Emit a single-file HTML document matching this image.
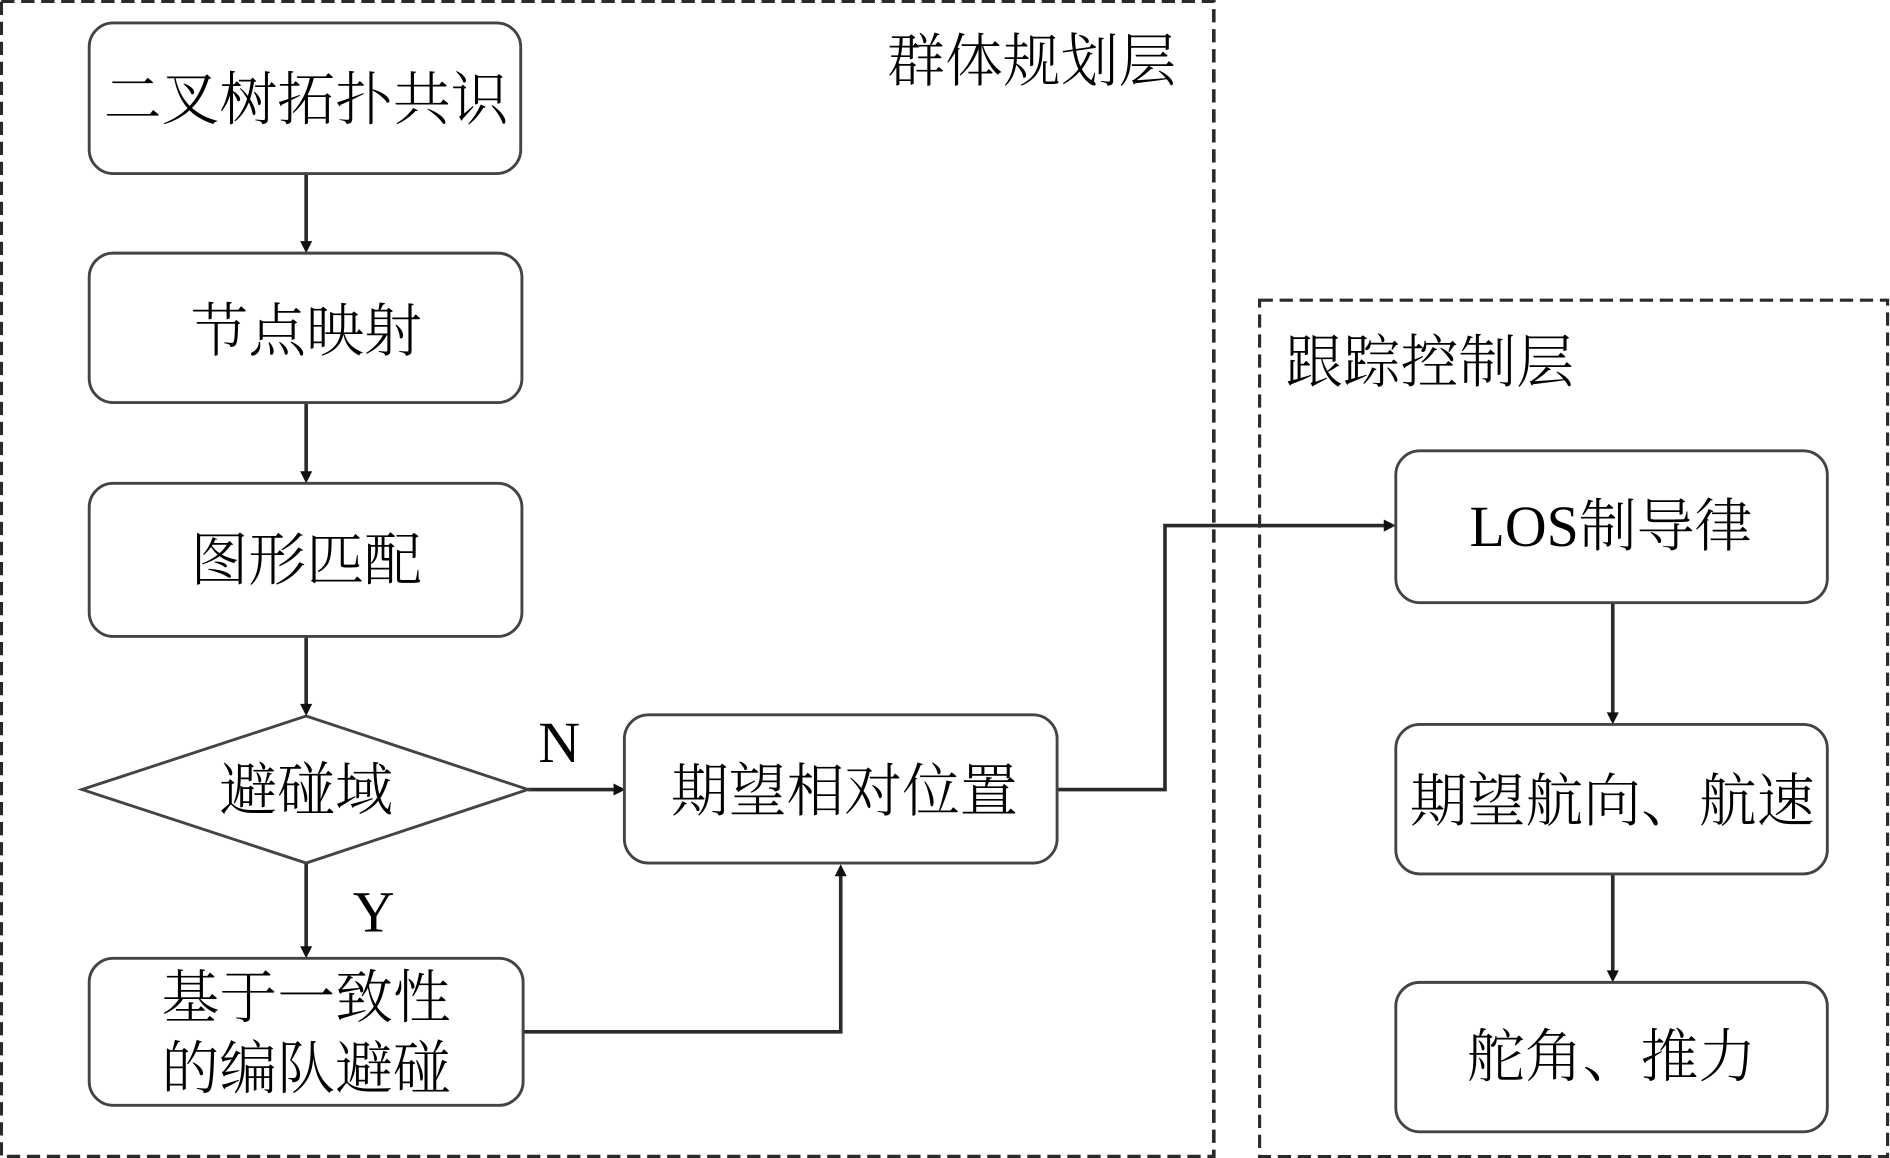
<!DOCTYPE html>
<html><head><meta charset="utf-8"><style>
html,body{margin:0;padding:0;background:#fff}
svg{display:block}
text{font-family:"Liberation Serif","Noto Serif CJK SC",serif;font-size:48px;fill:#000;text-anchor:middle;font-weight:300}
.b{fill:#fff;stroke:#444;stroke-width:2.4}
.l{fill:none;stroke:#2a2a2a;stroke-width:3}
.d{fill:none;stroke:#2a2a2a;stroke-width:3;stroke-dasharray:11 5.6}
.a{fill:#111}
</style></head><body>
<svg width="1890" height="1158" viewBox="0 0 1568 960.7" xmlns="http://www.w3.org/2000/svg">
<rect width="1568" height="961" fill="#fff"/>
<rect class="d" x="1" y="1" width="1006" height="958.5"/>
<rect class="d" x="1045" y="249" width="521" height="710.5" style="stroke-width:2.6"/>
<path class="l" d="M254 144V205M254 334V396M254 528V589M254 716V790M438 655H514M877 655H966.5V436H1153M434 856H697.5V722M1338 500V596M1338 725V810"/>
<path class="a" d="M249 200h10l-5 10zM249 391h10l-5 10zM249 584h10l-5 10zM249 785h10l-5 10zM509 650v10l10-5zM1148 431v10l10-5zM692.5 727h10l-5-10zM1333 591h10l-5 10zM1333 805h10l-5 10z"/>
<rect class="b" x="74" y="19" width="358" height="125" rx="20"/>
<rect class="b" x="74" y="210" width="359" height="124" rx="20"/>
<rect class="b" x="74" y="401" width="359" height="127" rx="20"/>
<polygon class="b" points="68,655 254,594 438,655 254,716"/>
<rect class="b" x="74" y="795" width="360" height="122" rx="20"/>
<rect class="b" x="518" y="593" width="359" height="123" rx="20"/>
<rect class="b" x="1158" y="374" width="358" height="126" rx="20"/>
<rect class="b" x="1158" y="601" width="358" height="124" rx="20"/>
<rect class="b" x="1158" y="815" width="358" height="124" rx="20"/>
<text x="856" y="67">群体规划层</text>
<text x="1186" y="317">跟踪控制层</text>
<text x="254" y="99">二叉树拓扑共识</text>
<text x="254" y="291">节点映射</text>
<text x="254" y="481">图形匹配</text>
<text x="254" y="672">避碰域</text>
<text x="464" y="632">N</text>
<text x="310" y="773">Y</text>
<text x="254" y="844">基于一致性</text>
<text x="254" y="903">的编队避碰</text>
<text x="700.5" y="673">期望相对位置</text>
<text x="1336.5" y="453">LOS制导律</text>
<text x="1337.5" y="681">期望航向、航速</text>
<text x="1337" y="893">舵角、推力</text>
</svg>
</body></html>
